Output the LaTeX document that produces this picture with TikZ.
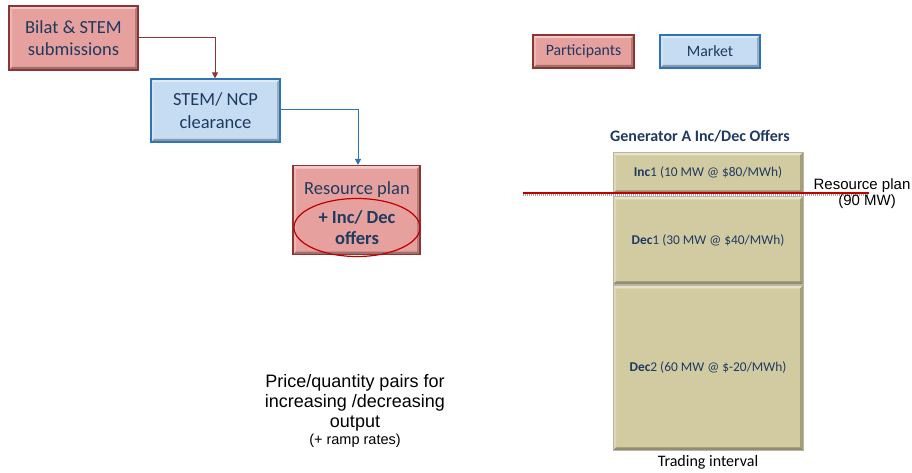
\documentclass[tikz,border=0pt]{standalone}
\usepackage{fontspec}
\setmainfont{Carlito}
\newfontfamily\arialfont{Liberation Sans}
\usetikzlibrary{arrows.meta,shapes.geometric}

\definecolor{partfill}{HTML}{E6A19E}
\definecolor{partline}{HTML}{8E3432}
\definecolor{mktfill}{HTML}{C6DCF2}
\definecolor{mktline}{HTML}{2F75B5}
\definecolor{offfill}{HTML}{D2CBA2}
\definecolor{offline}{HTML}{8A845E}
\definecolor{navy}{HTML}{1F3A60}
\definecolor{planred}{HTML}{C00000}

\tikzset{
  bevel/.style={path picture={
    \fill[white,opacity=0.45] (path picture bounding box.north west) -- (path picture bounding box.north east)
      -- ([shift={(-3pt,-3pt)}]path picture bounding box.north east) -- ([shift={(3pt,-3pt)}]path picture bounding box.north west) -- cycle;
    \fill[white,opacity=0.25] (path picture bounding box.north west) -- (path picture bounding box.south west)
      -- ([shift={(3pt,3pt)}]path picture bounding box.south west) -- ([shift={(3pt,-3pt)}]path picture bounding box.north west) -- cycle;
    \fill[black,opacity=0.30] (path picture bounding box.south west) -- (path picture bounding box.south east)
      -- ([shift={(-3pt,3pt)}]path picture bounding box.south east) -- ([shift={(3pt,3pt)}]path picture bounding box.south west) -- cycle;
    \fill[black,opacity=0.22] (path picture bounding box.north east) -- (path picture bounding box.south east)
      -- ([shift={(-3pt,3pt)}]path picture bounding box.south east) -- ([shift={(-3pt,-3pt)}]path picture bounding box.north east) -- cycle;
  }},
  boxfont/.style={font=\fontsize{18.5}{22.5}\selectfont},
  partbox/.style={bevel, fill=partfill, draw=partline, line width=1.2pt, text=navy,
    boxfont, align=center, inner sep=0pt},
  mktbox/.style={bevel, fill=mktfill, draw=mktline, line width=1.2pt, text=navy,
    boxfont, align=center, inner sep=0pt},
  offbox/.style={bevel, fill=offfill, draw=offline!60, line width=0.6pt, text=navy,
    font=\fontsize{13.4}{15}\selectfont, align=center, inner sep=0pt, minimum width=190pt},
  flowred/.style={draw=partline, line width=1pt, -{Triangle[length=6pt,width=6pt]}},
  flowblue/.style={draw=mktline, line width=1pt, -{Triangle[length=6pt,width=6pt]}},
  plainlabel/.style={font=\arialfont\fontsize{18}{20}\selectfont, align=center, text=black},
}

\begin{document}
\begin{tikzpicture}[x=1pt,y=-1pt]
  \useasboundingbox (0,0) rectangle (912,473);

  % process chain
  \node[partbox, minimum width=129pt, minimum height=64pt] (bilat) at (73.5,38) {Bilat \& STEM\\submissions};
  \node[mktbox, minimum width=129pt, minimum height=63pt] (stem) at (215.5,110.5) {STEM/ NCP\\clearance};
  \node[partbox, minimum width=127pt, minimum height=89pt, anchor=north] (plan) at (356.5,165) {};
  \node[text=navy, boxfont] (plantitle) at (357,190) {Resource plan};
  \node[ellipse, draw=planred, line width=1.2pt, minimum width=126pt, minimum height=58pt,
        text=navy, font=\bfseries\fontsize{18.5}{20.5}\selectfont, align=center, inner sep=0pt] (offers) at (357,227.5) {+ Inc/ Dec\\offers};

  \coordinate (c1) at (215,38);
  \coordinate (c2) at (358,110);
  \draw[flowred] (bilat.east |- c1) -- (c1) -- (c1 |- stem.north);
  \draw[flowblue] (stem.east |- c2) -- (c2) -- (c2 |- plan.north);

  % legend
  \node[partbox, font=\fontsize{15.8}{18}\selectfont, minimum width=101pt, minimum height=33pt] (legpart) at (583.5,51.5) {Participants};
  \node[mktbox, font=\fontsize{15.8}{18}\selectfont, minimum width=100pt, minimum height=33pt] (legmkt) at (710,51.5) {Market};

  % offer stack
  \node[text=navy, font=\bfseries\fontsize{16}{18}\selectfont] (gentitle) at (700,136) {Generator A Inc/Dec Offers};
  \node[offbox, minimum height=41pt, anchor=north] (inc1) at (708,152) {\textbf{Inc}1 (10 MW @ \$80/MWh)};
  \node[offbox, minimum height=88pt, anchor=north] (dec1) at (708,196) {\textbf{Dec}1 (30 MW @ \$40/MWh)};
  \node[offbox, minimum height=165pt, anchor=north] (dec2) at (708,285) {\textbf{Dec}2 (60 MW @ \$-20/MWh)};
  \node[font=\fontsize{16}{18}\selectfont, text=black] (trading) at (708,462) {Trading interval};

  % resource plan level
  \coordinate (lvlL) at (523,193);
  \coordinate (lvlR) at (869,193);
  \draw[gray!70, line width=2pt, dash pattern=on 1pt off 1pt] ([yshift=-1.5pt]lvlL) -- ([yshift=-1.5pt]lvlR);
  \draw[planred, line width=2pt] (lvlL) -- (lvlR);
  \node[font=\arialfont\fontsize{15}{15.5}\selectfont, align=center, text=black] (lvllabel) at (862,193.5) {Resource plan\\\hspace*{10pt}(90 MW)};

  % note
  \node[plainlabel] (note) at (355,403) {Price/quantity pairs for\\increasing /decreasing\\output};
  \node[font=\arialfont\fontsize{14.5}{16}\selectfont, text=black] (ramp) at (355,441) {(+ ramp rates)};
\end{tikzpicture}
\end{document}
